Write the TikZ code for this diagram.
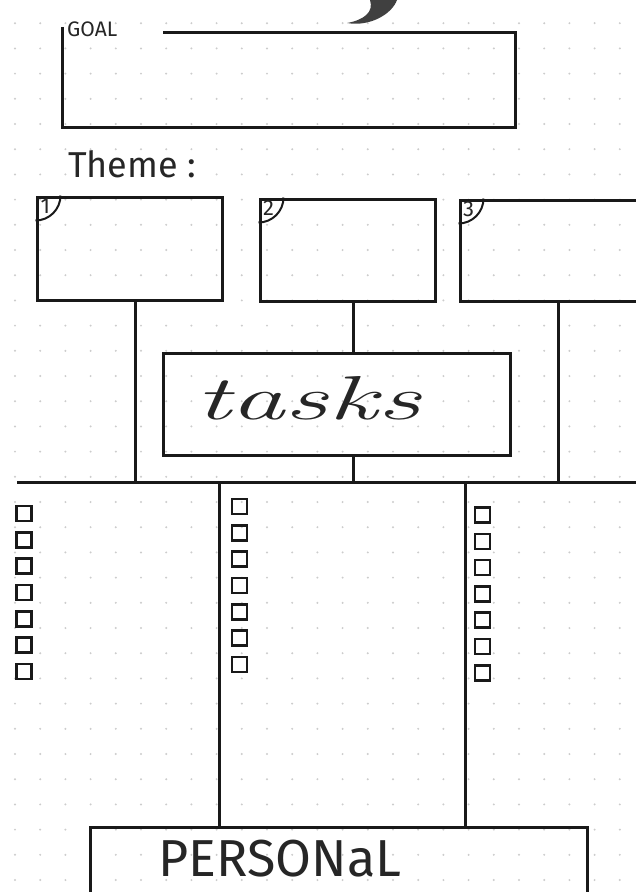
\documentclass[tikz,border=0pt]{standalone}
\usepackage{fontspec}
\newfontfamily\handfont{Fira Sans}
\usetikzlibrary{positioning}

\tikzset{
  ink/.style={line width=3pt, draw=black!90},
  box/.style={draw=black!90, line width=3pt, rectangle, inner sep=0pt},
  checkbox/.style={draw=black!90, line width=2.6pt, rectangle, minimum size=15pt, inner sep=0pt},
  griddot/.style={fill=black!20},
  hand/.style={inner sep=0pt, text=black!85},
}

\begin{document}
\begin{tikzpicture}[x=1pt,y=-1pt]
    \clip (0,0) rectangle (636,892);
    \fill[white] (0,0) rectangle (636,892);

    % Dot grid of the page
    \foreach \i in {0,...,25}
      \foreach \j in {0,...,35}
        \fill[griddot] (15+25.2*\i, -2+25.2*\j) circle (1.1);

    % Tail of the lettering above
    \fill[black!75] (370,0) .. controls (374,12) and (364,20) .. (347,23)
      .. controls (370,27) and (392,14) .. (397,0) -- cycle;

    % Goal box, open at the top left for its label
    \node[inner sep=0pt, minimum width=452pt, minimum height=94pt] (goal) at (289,80) {};
    \node[hand, anchor=west, font=\handfont\fontsize{21}{21}\selectfont] (goallbl) at (67,29) {GOAL};
    \coordinate (goalend) at (163,33);
    \draw[ink] (goal.north west) ++(0,-6) -- (goal.south west) -- (goal.south east)
      -- (goal.north east) -- (goal.north -| goalend);

    \node[hand, anchor=west, font=\handfont\fontsize{36}{36}\selectfont] (theme) at (68,164) {Theme :};

    % The three themes
    \node[box, minimum width=185pt, minimum height=103pt] (box1) at (129.5,248.5) {};
    \node[box, minimum width=175pt, minimum height=102pt] (box2) at (347.5,250) {};
    \node[box, minimum width=185pt, minimum height=101pt] (box3) at (552.5,250.5) {};
    \foreach \b/\n in {box1/1,box2/2,box3/3} {
      \draw[ink, line width=2pt] (\b.north west) ++(25,0) arc[start angle=0, end angle=90, radius=25];
      \node[hand, font=\handfont\fontsize{22}{22}\selectfont] (num\n) at ([xshift=10pt,yshift=-11pt]\b.north west) {\n};
    }

    % Tasks
    \node[box, minimum width=347pt, minimum height=102pt] (tasks) at (336.5,404) {};
    \node[hand, font=\itshape\fontsize{62}{62}\selectfont] (taskslbl) at (308,398) {\scalebox{1.75}[1]{tasks}};

    % Bus line and its branches
    \coordinate (busL) at (17,482);
    \coordinate (busR) at (636,482);
    \coordinate (t1) at (135,482);
    \coordinate (t2) at (353,482);
    \coordinate (t3) at (558,482);
    \coordinate (d1) at (219,482);
    \coordinate (d2) at (465,482);
    \draw[ink] (busL) -- (busR);
    \draw[ink] (box1.south -| t1) -- (t1);
    \draw[ink] (box2.south -| t2) -- (tasks.north -| t2);
    \draw[ink] (tasks.south -| t2) -- (t2);
    \draw[ink] (box3.south -| t3) -- (t3);

    % Personal
    \node[box, minimum width=497pt, minimum height=120pt] (personal) at (338.5,887) {};
    \node[hand, font=\handfont\fontsize{52}{52}\selectfont] (personallbl) at (280,859) {PERSONaL};
    \draw[ink] (d1) -- (personal.north -| d1);
    \draw[ink] (d2) -- (personal.north -| d2);

    % Check boxes
    \foreach \c/\x/\y in {1/24/513.5, 2/239.5/506.5, 3/482.5/515}
      \foreach \k in {0,...,6}
        \node[checkbox] (chk\c-\k) at (\x, \y+26.3*\k) {};
\end{tikzpicture}
\end{document}
